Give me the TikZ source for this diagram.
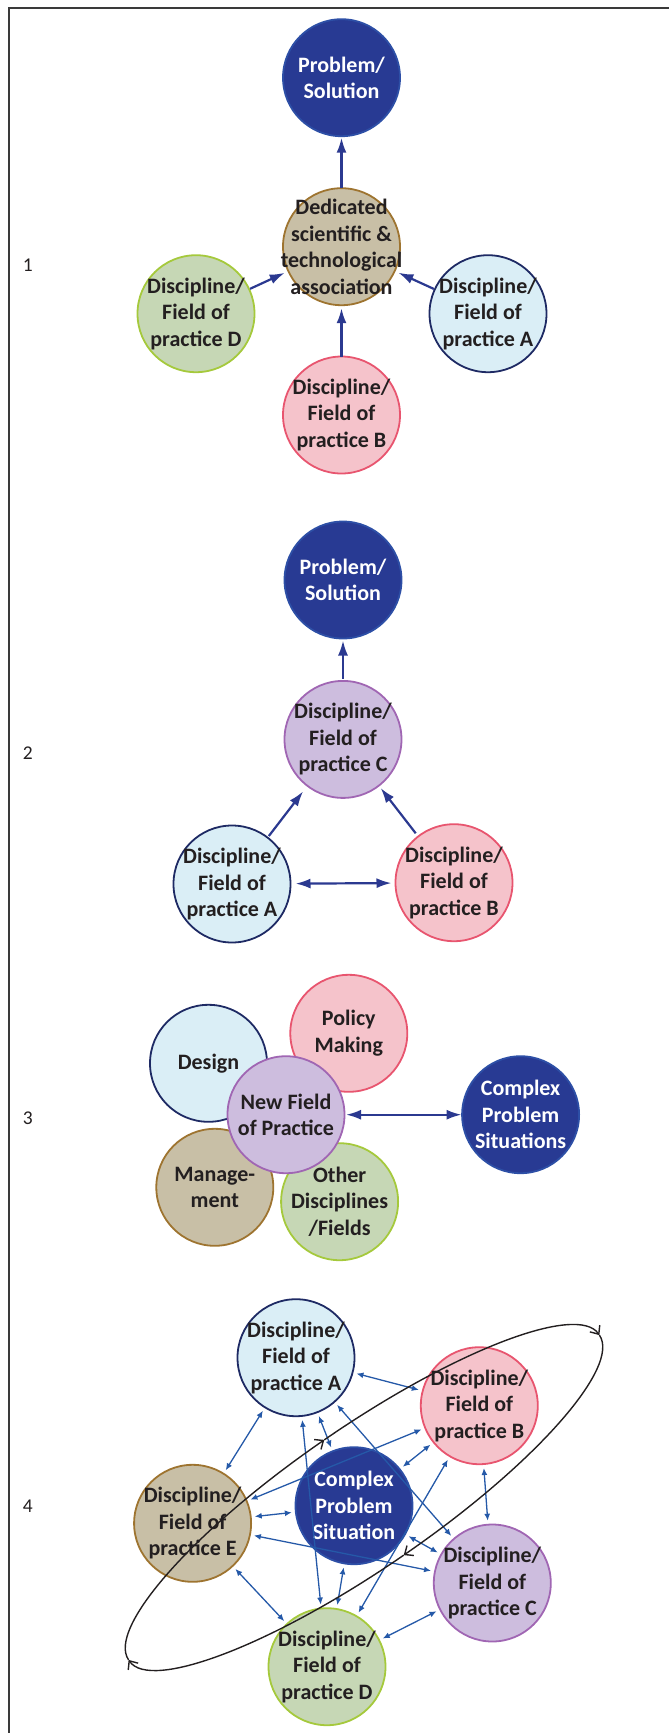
\documentclass[tikz,border=0pt]{standalone}
\usepackage{fontspec}
\setmainfont{Carlito}
\usetikzlibrary{arrows.meta}
\definecolor{navyfill}{HTML}{283A93}
\definecolor{navyline}{HTML}{2D4FA6}
\definecolor{tanfill}{HTML}{C8BFA6}
\definecolor{tanline}{HTML}{9E7430}
\definecolor{greenfill}{HTML}{C6D7B5}
\definecolor{greenline}{HTML}{A5C93C}
\definecolor{bluefill}{HTML}{DAEEF6}
\definecolor{blueline}{HTML}{1E2A64}
\definecolor{pinkfill}{HTML}{F5C3CB}
\definecolor{pinkline}{HTML}{E8556F}
\definecolor{purplefill}{HTML}{CDBDDE}
\definecolor{purpleline}{HTML}{A066B3}
\definecolor{txtc}{HTML}{231F20}
\definecolor{arrc}{HTML}{2B3990}
\definecolor{arrfour}{HTML}{2559A8}
\definecolor{framec}{HTML}{3A3A3A}
\begin{document}
\begin{tikzpicture}[x=1pt,y=-1pt,
  disc/.style={circle, minimum size=117pt, inner sep=0pt, outer sep=0pt, line width=1.8pt},
  navyd/.style={disc, fill=navyfill, draw=navyline},
  tand/.style={disc, fill=tanfill, draw=tanline},
  greend/.style={disc, fill=greenfill, draw=greenline},
  blued/.style={disc, fill=bluefill, draw=blueline},
  pinkd/.style={disc, fill=pinkfill, draw=pinkline},
  purpled/.style={disc, fill=purplefill, draw=purpleline},
  lbl/.style={font=\fontsize{22}{26.5}\selectfont\bfseries, text=txtc, align=center, inner sep=0pt},
  wlbl/.style={lbl, text=white},
  num/.style={font=\fontsize{19.5}{23}\selectfont, text=txtc, inner sep=0pt},
  bigarrow/.style={draw=arrc, line width=2.2pt, -{Latex[length=15pt,width=10pt]}},
  bigboth/.style={draw=arrc, line width=2.2pt, {Latex[length=15pt,width=10pt]}-{Latex[length=15pt,width=10pt]}},
  link/.style={draw=arrfour, line width=1.3pt, {Latex[length=7pt,width=6pt]}-{Latex[length=7pt,width=6pt]}, shorten <=4pt, shorten >=4pt},
  orbit/.style={draw=txtc, line width=1.4pt, -{Straight Barb[length=7pt,width=12pt]}}
]
\useasboundingbox (0,0) rectangle (669,1733);
\draw[framec, line width=1.8pt] (9,1733) -- (9,8) -- (669,8);

% ---------- section numbers
\node[num] (n1) at (27.7,265) {1};
\node[num] (n2) at (27.7,753.3) {2};
\node[num] (n3) at (27.7,1118.3) {3};
\node[num] (n4) at (27.7,1506.7) {4};

% ---------- section 1
\node[navyd] (p1) at (341.5,77.7) {};
\node[tand] (d1) at (341.5,246.7) {};
\node[greend] (fD1) at (196,313.7) {};
\node[blued] (fA1) at (488,313.7) {};
\node[pinkd] (fB1) at (341.5,415) {};
\node[wlbl] (p1t) at (p1) {Problem/\\Solution};
\node[lbl] (d1t) at (d1) {Dedicated\\scientific \&\\technological\\association};
\node[lbl] (fD1t) at (fD1) {Discipline/\\Field of\\practice D};
\node[lbl] (fA1t) at (fA1) {Discipline/\\Field of\\practice A};
\node[lbl] (fB1t) at (fB1) {Discipline/\\Field of\\practice B};
\draw[bigarrow, shorten >=1.5pt] (d1) -- (p1);
\draw[bigarrow, shorten >=3pt] (fB1) -- (d1);
\draw[bigarrow, shorten <=1pt, shorten >=4pt] (fD1) -- (d1);
\draw[bigarrow, shorten <=1pt, shorten >=4pt] (fA1) -- (d1);

% ---------- section 2
\node[navyd] (p2) at (343,580) {};
\node[purpled] (fC2) at (343,739.4) {};
\node[blued] (fA2) at (232,884) {};
\node[pinkd] (fB2) at (454,882.7) {};
\node[wlbl] (p2t) at (p2) {Problem/\\Solution};
\node[lbl] (fC2t) at (fC2) {Discipline/\\Field of\\practice C};
\node[lbl] (fA2t) at (fA2) {Discipline/\\Field of\\practice A};
\node[lbl] (fB2t) at (fB2) {Discipline/\\Field of\\practice B};
\draw[bigarrow, shorten <=2pt, shorten >=2pt] (fC2) -- (p2);
\draw[bigarrow, shorten <=2pt, shorten >=7pt] (fA2) -- (fC2);
\draw[bigarrow, shorten <=4pt, shorten >=3pt] (fB2) -- (fC2);
\draw[bigboth, shorten <=5pt, shorten >=4pt] (fA2) -- (fB2);

% ---------- section 3
\node[blued] (des) at (208.5,1063.3) {};
\node[pinkd] (pol) at (348.8,1033.3) {};
\node[tand] (man) at (214.8,1187.3) {};
\node[greend] (oth) at (339.6,1201.7) {};
\node[lbl] (dest) at (des) {Design};
\node[lbl] (polt) at (pol) {Policy\\Making};
\node[lbl] (mant) at (man) {Manage-\\ment};
\node[lbl] (otht) at (oth) {Other\\Disciplines\\/Fields};
\node[purpled] (nf) at (286,1114.7) {};
\node[lbl] (nft) at (nf) {New Field\\of Practice};
\node[navyd] (cps3) at (520.6,1114.7) {};
\node[wlbl] (cps3t) at (cps3) {Complex\\Problem\\Situations};
\draw[bigboth, shorten <=1.5pt, shorten >=0.5pt] (nf) -- (cps3);

% ---------- section 4
\node[blued] (fA4) at (296,1357.7) {};
\node[pinkd] (fB4) at (479.3,1405.7) {};
\node[navyd] (cps4) at (354,1505.7) {};
\node[tand] (fE4) at (192.6,1523.3) {};
\node[purpled] (fC4) at (492.3,1583) {};
\node[greend] (fD4) at (327,1666.7) {};
\node[lbl] (fA4t) at (fA4) {Discipline/\\Field of\\practice A};
\node[lbl] (fB4t) at (fB4) {Discipline/\\Field of\\practice B};
\node[wlbl] (cps4t) at (cps4) {Complex\\Problem\\Situation};
\node[lbl] (fE4t) at (fE4) {Discipline/\\Field of\\practice E};
\node[lbl] (fC4t) at (fC4) {Discipline/\\Field of\\practice C};
\node[lbl] (fD4t) at (fD4) {Discipline/\\Field of\\practice D};
\draw[link] (fA4) -- (fB4);
\draw[link] (fA4) -- (fE4);
\draw[link] (fA4) -- (fD4);
\draw[link] (fA4) -- (cps4);
\draw[link] (fA4) -- (fC4);
\draw[link] (fE4) -- (fB4);
\draw[link] (cps4) -- (fB4);
\draw[link] (fB4) -- (fC4);
\draw[link] (fE4) -- (cps4);
\draw[link] (fE4) -- (fC4);
\draw[link] (cps4) -- (fC4);
\draw[link] (fB4) -- (fD4);
\draw[link] (fE4) -- (fD4);
\draw[link] (cps4) -- (fD4);
\draw[link] (fD4) -- (fC4);

% orbit ellipse
\begin{scope}[shift={(364,1497.5)}, rotate=34.6]
  \draw[orbit] (286pt,0pt) arc[start angle=0, end angle=-90, x radius=286pt, y radius=70pt];
  \draw[orbit] (0pt,-70pt) arc[start angle=-90, end angle=-180, x radius=286pt, y radius=70pt];
  \draw[orbit] (-286pt,0pt) arc[start angle=-180, end angle=-270, x radius=286pt, y radius=70pt];
  \draw[orbit] (0pt,70pt) arc[start angle=-270, end angle=-360, x radius=286pt, y radius=70pt];
\end{scope}
\end{tikzpicture}
\end{document}
